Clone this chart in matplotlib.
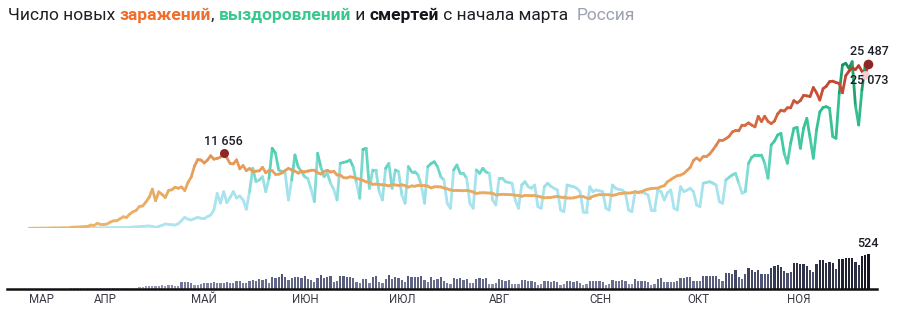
import numpy as np
import pandas as pd
import matplotlib
matplotlib.use("Agg")
import matplotlib.pyplot as plt
from matplotlib.collections import LineCollection
from matplotlib.colors import LinearSegmentedColormap, Normalize
from matplotlib.transforms import blended_transform_factory

# ---------------- data (Russia, 2020) ----------------
END_DATE = "2020-11-26"
ORIGIN = "2020-03-01"

cases_mar = [6, 17, 14, 4, 30, 21, 33, 52, 54, 53, 61, 71, 57, 163, 182, 196, 228, 270, 302, 500]
cases_apr = [440, 771, 601, 582, 658, 954, 1154, 1175, 1459, 1786, 1667, 2186, 2558, 2774, 3388,
             3448, 4070, 4785, 6060, 4268, 5642, 5236, 4774, 5849, 5966, 6361, 6198, 6411, 5841, 7099]
cases_may = [7933, 9623, 10633, 10581, 10102, 10559, 11231, 10699, 10817, 11012, 11656, 10899, 10028,
             9974, 10598, 9200, 9709, 8926, 9263, 8764, 8849, 8894, 9434, 8599, 8946, 8915, 8338, 8371,
             8572, 8952, 9268]
cases_jun = [9035, 8863, 8536, 8831, 8726, 8855, 8984, 8985, 8595, 8404, 8779, 8987, 8706, 8835, 8246,
             8248, 7843, 7790, 7972, 7889, 7728, 7600, 7425, 7176, 7113, 6800, 6852, 6791, 6719, 6693]
cases_jul = [6556, 6760, 6718, 6632, 6736, 6611, 6368, 6562, 6509, 6635, 6611, 6615, 6537, 6248, 6422,
             6428, 6406, 6234, 6109, 5940, 5842, 5862, 5848, 5811, 5871, 5765, 5635, 5395, 5475, 5509, 5482]
cases_aug = [5462, 5427, 5159, 5204, 5267, 5241, 5212, 5189, 5118, 5077, 4945, 5102, 5057, 5065, 5061,
             4969, 4839, 4718, 4748, 4767, 4870, 4921, 4852, 4852, 4696, 4676, 4711, 4829, 4980, 4897, 4729]
cases_sep = [4729, 4952, 5110, 5205, 5195, 5205, 5185, 5099, 5172, 5363, 5406, 5488, 5449, 5509, 5670,
             5529, 5670, 5905, 6065, 6148, 6196, 6215, 6431, 6595, 7212, 7523, 7867, 8135, 8232, 8481]
cases_oct = [8945, 9412, 10499, 10888, 10499, 11115, 11115, 11493, 12126, 12846, 13634, 13592, 13868,
             14231, 14922, 15150, 15099, 15982, 15982, 16319, 15971, 15700, 17340, 16521, 17347, 16550,
             16202, 16595, 17717, 18283, 18140]
cases_nov = [18665, 18648, 19768, 19404, 19768, 20582, 20498, 20396, 21798, 20977, 19851, 21608, 21983,
             22702, 22778, 22572, 22410, 20977, 23610, 24318, 24822, 24581, 25173, 24326, 23675, 25487]

rec_mar = [0, 0, 0, 0, 0, 0, 0, 5, 0, 0, 5, 0, 10, 15, 5, 10, 20, 25, 30, 35]
rec_apr = [45, 50, 60, 70, 80, 90, 100, 110, 100, 120, 150, 150, 200, 220, 250, 300, 330, 360, 300, 150,
           300, 450, 670, 600, 550, 510, 700, 1200, 1700, 1400]
rec_may = [1290, 1500, 1700, 1550, 1490, 1800, 2060, 2840, 5400, 3900, 5670, 3960, 4800, 5670, 4690,
           5000, 4380, 2940, 5670, 9290, 7210, 7480, 8000, 5670, 7740, 12380, 11610, 9030, 8800, 8500, 4380]
rec_jun = [7500, 11350, 9500, 8800, 7990, 7700, 6000, 4120, 11610, 9500, 7990, 8510, 6970, 6000, 4380,
           10060, 10200, 10310, 10570, 9500, 7000, 4640, 12200, 12380, 6190, 9030, 9030, 5670, 4380, 9290]
rec_jul = [10060, 6190, 9030, 8760, 5150, 3870, 9540, 8760, 8760, 8250, 6700, 3870, 9540, 10000, 10310,
           9540, 7990, 7480, 3870, 3100, 9030, 9800, 8510, 8510, 7740, 3870, 3100, 9030, 8510, 9290, 8700]
rec_aug = [8510, 4380, 3610, 7740, 7740, 7210, 7100, 6970, 4380, 3100, 6700, 7210, 6450, 6190, 6700,
           3340, 3100, 6450, 6970, 6500, 6190, 5930, 2830, 2570, 6700, 6550, 6450, 6190, 5670, 2570, 2570]
rec_sep = [6450, 5670, 5930, 5800, 5670, 3100, 2830, 6700, 6190, 6000, 5930, 5420, 2830, 2570, 5670,
           5670, 5600, 5420, 5150, 2830, 2830, 5930, 5670, 4380, 5500, 5930, 3100, 2830, 6450, 5670]
rec_oct = [5900, 6190, 5670, 3600, 3340, 6970, 7100, 7210, 7000, 6700, 4120, 3870, 7480, 7900, 8250,
           8510, 6970, 5420, 5670, 10060, 11000, 11350, 11350, 11350, 10060, 7740, 12900, 13500, 14440,
           14700, 11610]
rec_nov = [10060, 13160, 15480, 15630, 12380, 15480, 17030, 14000, 10840, 15220, 18000, 18700, 18830,
           18580, 14180, 13930, 20900, 25280, 25540, 24770, 25790, 19000, 15990, 21410, 25280, 25073]

deaths_mar = [1, 0, 1, 0, 1, 1, 2]
deaths_apr = [4, 2, 4, 4, 2, 2, 2, 11, 13, 18, 12, 13, 18, 22, 24, 28, 41, 48, 42, 51, 51, 57, 42, 60,
              66, 47, 50, 108, 101, 107]
deaths_may = [96, 57, 58, 76, 95, 86, 88, 98, 88, 88, 94, 107, 96, 93, 113, 119, 94, 91, 115, 135, 127,
              150, 139, 153, 92, 174, 161, 174, 232, 181, 138]
deaths_jun = [162, 182, 178, 169, 197, 144, 134, 112, 171, 216, 171, 181, 194, 112, 119, 193, 194, 182,
              181, 161, 109, 95, 153, 154, 92, 176, 188, 104, 93, 154]
deaths_jul = [216, 147, 176, 168, 135, 104, 198, 173, 174, 174, 188, 130, 102, 175, 135, 144, 186, 119,
              95, 80, 165, 150, 164, 129, 146, 85, 95, 147, 169, 150, 161]
deaths_aug = [70, 70, 95, 144, 129, 114, 129, 70, 77, 70, 130, 129, 114, 121, 103, 67, 70, 114, 121, 103,
              121, 111, 62, 68, 122, 121, 110, 117, 95, 57, 68]
deaths_sep = [123, 117, 119, 114, 110, 65, 74, 135, 124, 119, 128, 117, 71, 69, 144, 122, 119, 122, 106,
              61, 81, 149, 160, 106, 108, 106, 99, 117, 160, 169]
deaths_oct = [186, 174, 117, 115, 117, 198, 202, 191, 201, 197, 147, 124, 244, 239, 232, 286, 186, 145,
              222, 317, 286, 258, 283, 229, 219, 229, 320, 346, 366, 334, 272]
deaths_nov = [245, 252, 389, 386, 374, 378, 349, 286, 256, 368, 432, 439, 387, 411, 391, 294, 442, 456,
              463, 467, 467, 401, 361, 491, 507, 524]

month_labels = ["МАР", "АПР", "МАЙ", "ИЮН", "ИЮЛ", "АВГ", "СЕН", "ОКТ", "НОЯ"]
month_starts = ["2020-03-01", "2020-04-01", "2020-05-01", "2020-06-01", "2020-07-01",
                "2020-08-01", "2020-09-01", "2020-10-01", "2020-11-01"]

cases = np.array(cases_mar + cases_apr + cases_may + cases_jun + cases_jul + cases_aug + cases_sep
                 + cases_oct + cases_nov, dtype=float)
recovered = np.array(rec_mar + rec_apr + rec_may + rec_jun + rec_jul + rec_aug + rec_sep + rec_oct
                     + rec_nov, dtype=float)
deaths = np.array(deaths_mar + deaths_apr + deaths_may + deaths_jun + deaths_jul + deaths_aug
                  + deaths_sep + deaths_oct + deaths_nov, dtype=float)

origin = pd.Timestamp(ORIGIN)


def day_index(n):
    dates = pd.date_range(end=pd.Timestamp(END_DATE), periods=n, freq="D")
    return np.asarray((dates - origin).days, dtype=float)


d_cases = day_index(len(cases))
d_rec = day_index(len(recovered))
d_deaths = day_index(len(deaths))

# ---------------- layout constants (pixels) ----------------
W, H = 898, 314
PX_DAY = 3.24          # pixels per day
X_DAY0 = -6.4          # pixel position of 1 March
BASE_LINE = 228.3      # pixel row of zero for lines
PER_PX = 154.8         # cases per pixel
TOP_LINE = 30
BASE_BAR = 289.0
BAR_SCALE_PX = 35.0    # pixel height of max death bar

xlim = ((0 - X_DAY0) / PX_DAY, (W - X_DAY0) / PX_DAY)

fig = plt.figure(figsize=(W / 100, H / 100), dpi=100)
fig.patch.set_facecolor("white")

ax = fig.add_axes([0, (H - BASE_LINE) / H, 1, (BASE_LINE - TOP_LINE) / H])
ax.set_xlim(*xlim)
ax.set_ylim(0, (BASE_LINE - TOP_LINE) * PER_PX)
ax.axis("off")

bx = fig.add_axes([0, (H - BASE_BAR) / H, 1, 42 / H])
bx.set_xlim(*xlim)
bx.set_ylim(0, deaths.max() * 42 / BAR_SCALE_PX)
for s in ["top", "left", "right"]:
    bx.spines[s].set_visible(False)
bx.spines["bottom"].set_linewidth(1.8)
bx.spines["bottom"].set_color("#111111")
bx.spines["bottom"].set_bounds((7 - X_DAY0) / PX_DAY, (877 - X_DAY0) / PX_DAY)
bx.set_xticks([])
bx.set_yticks([])
bx.patch.set_alpha(0)

cmap_cases = LinearSegmentedColormap.from_list(
    "cases", [(0, "#ecb46a"), (0.3, "#e8a65d"), (0.45, "#e39257"), (0.55, "#dc7a4a"),
              (0.72, "#cf5a3a"), (1, "#bb3a2c")])
cmap_rec = LinearSegmentedColormap.from_list(
    "rec", [(0, "#ade5f0"), (0.24, "#a6e3ee"), (0.36, "#66d5c2"), (0.48, "#45cca8"),
            (0.7, "#33bf8e"), (1, "#17925a")])
cmap_deaths = LinearSegmentedColormap.from_list(
    "deaths", [(0, "#b4b7cc"), (0.1, "#9195b0"), (0.22, "#6d7192"), (0.45, "#4e5272"),
               (0.75, "#2d2f46"), (1, "#15161f")])
norm = Normalize(0, 25500)


def gradient_line(axis, x, y, cmap, z):
    pts = np.column_stack([x, y]).reshape(-1, 1, 2)
    segs = np.concatenate([pts[:-1], pts[1:]], axis=1)
    vals = (y[:-1] + y[1:]) / 2
    lc = LineCollection(segs, colors=cmap(norm(vals)), linewidths=2.0,
                        capstyle="round", joinstyle="round", zorder=z)
    axis.add_collection(lc)


gradient_line(ax, d_rec, recovered, cmap_rec, 2)
gradient_line(ax, d_cases, cases, cmap_cases, 3)

# deaths bars
bar_vals = np.maximum(deaths, 20)
bx.bar(d_deaths, bar_vals, width=0.7, color=cmap_deaths(deaths / deaths.max()), zorder=1,
       linewidth=0)


def fmt(v):
    return f"{int(v):,}".replace(",", " ")


ann_font = dict(family=["Roboto", "DejaVu Sans"], fontsize=9, fontweight="medium", color="#1c1c28")

# first wave peak
ip = int(np.argmax(cases[:100]))
ax.scatter([d_cases[ip]], [cases[ip]], s=42, color="#8e2626", zorder=5, linewidths=0)
ax.annotate(fmt(cases[ip]), (d_cases[ip], cases[ip]), xytext=(0, 8.5), textcoords="offset points",
            ha="center", va="center", **ann_font)

# last values
ax.scatter([d_cases[-2]], [cases[-2]], s=40, color="#f3cfcf", zorder=4, linewidths=0)
ax.scatter([d_cases[-1]], [cases[-1]], s=48, color="#8e2626", zorder=5, linewidths=0)
ax.annotate(fmt(cases[-1]), (d_cases[-1], cases[-1]), xytext=(0.5, 8.8), textcoords="offset points",
            ha="center", va="center", **ann_font)
ax.annotate(fmt(recovered[-1]), (d_rec[-1], recovered[-1]), xytext=(0.5, -10.5),
            textcoords="offset points", ha="center", va="center", zorder=6, **ann_font)
bx.annotate(fmt(deaths[-1]), (d_deaths[-1], deaths[-1]), xytext=(0, 7.5), textcoords="offset points",
            ha="center", va="center", **ann_font)

# month labels
tr = blended_transform_factory(bx.transData, fig.transFigure)
for i, (lab, ms) in enumerate(zip(month_labels, month_starts)):
    dpos = (pd.Timestamp(ms) - origin).days
    if i == 0:
        dpos = d_cases[0]
    bx.text(dpos, (H - 299.5) / H, lab, transform=tr, ha="left", va="center",
            fontsize=8.3, color="#3a3a44", family=["Roboto", "DejaVu Sans"])

# title with coloured words
pieces = [("Число новых ", "#1e1e26", "normal"),
          ("заражений", "#f26d2b", "bold"),
          (", ", "#1e1e26", "normal"),
          ("выздоровлений", "#38c990", "bold"),
          (" и ", "#1e1e26", "normal"),
          ("смертей", "#15151c", "bold"),
          (" с начала марта  ", "#1e1e26", "normal"),
          ("Россия", "#9ca1b0", "normal")]
TITLE_FAMILY = ["Roboto", "DejaVu Sans"]
fig.canvas.draw()
renderer = fig.canvas.get_renderer()


def text_width(s, size, weight):
    t = fig.text(0, 0, "|" + s + "|", fontsize=size, fontweight=weight, family=TITLE_FAMILY)
    t2 = fig.text(0, 0, "||", fontsize=size, fontweight=weight, family=TITLE_FAMILY)
    w = t.get_window_extent(renderer).width - t2.get_window_extent(renderer).width
    t.remove()
    t2.remove()
    return w


base_size = 12.5
total = sum(text_width(s, base_size, wgt) for s, _, wgt in pieces)
size = base_size * 628 / total
x = 8
for s, col, wgt in pieces:
    fig.text(x / W, (H - 15.5) / H, s, fontsize=size, fontweight=wgt, color=col, family=TITLE_FAMILY,
             ha="left", va="center")
    x += text_width(s, size, wgt)

fig.savefig("out.png", dpi=100, facecolor="white")
